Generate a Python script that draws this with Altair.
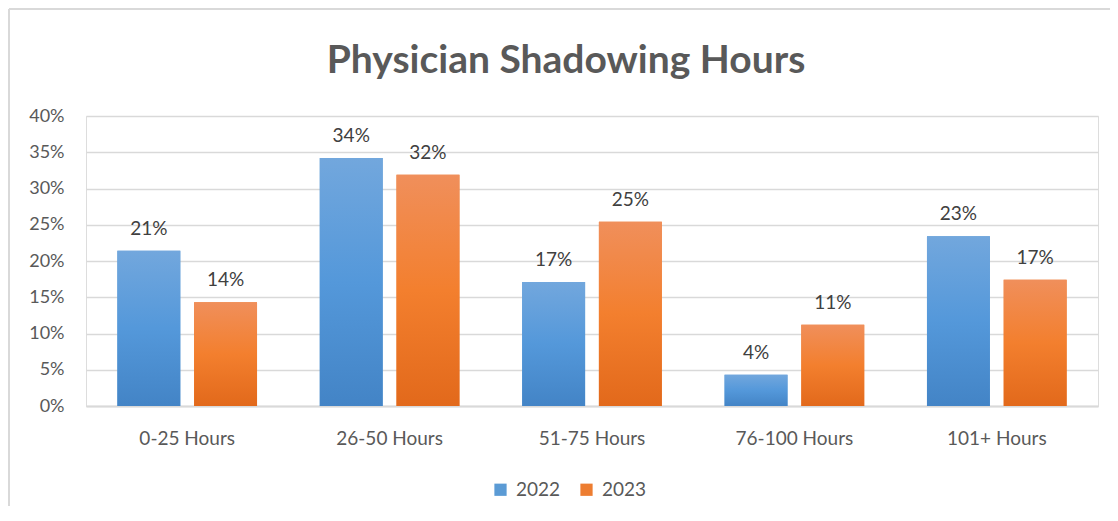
import altair as alt
import pandas as pd

categories = ["0-25 Hours", "26-50 Hours", "51-75 Hours", "76-100 Hours", "101+ Hours"]
years = ["2022", "2023"]
values_2022 = [0.214, 0.342, 0.171, 0.043, 0.234]
values_2023 = [0.143, 0.319, 0.254, 0.112, 0.174]
y_ticks = [0, 0.05, 0.10, 0.15, 0.20, 0.25, 0.30, 0.35, 0.40]
title_text = "Physician Shadowing Hours"

rows = []
for c, v in zip(categories, values_2022):
    rows.append({"cat": c, "year": "2022", "value": v})
for c, v in zip(categories, values_2023):
    rows.append({"cat": c, "year": "2023", "value": v})
df = pd.DataFrame(rows)

FONT = "Lato"
W, H = 1012, 290

grad_blue = alt.Gradient(gradient="linear", x1=0, x2=0, y1=0, y2=1,
                         stops=[alt.GradientStop(color="#72a7dd", offset=0),
                                alt.GradientStop(color="#5498da", offset=0.5),
                                alt.GradientStop(color="#4384c6", offset=1)])
grad_orange = alt.Gradient(gradient="linear", x1=0, x2=0, y1=0, y2=1,
                           stops=[alt.GradientStop(color="#f08f5b", offset=0),
                                  alt.GradientStop(color="#f37f2e", offset=0.5),
                                  alt.GradientStop(color="#e2691b", offset=1)])

x_enc = alt.X("cat:N", sort=categories,
              scale=alt.Scale(paddingInner=0.31, paddingOuter=0.155),
              axis=alt.Axis(title=None, labelAngle=0, labelFontSize=19, labelColor="#595959",
                            labelFont=FONT, labelPadding=23, ticks=False, domainColor="#d9d9d9",
                            domainWidth=2, grid=False))
xo_enc = alt.XOffset("year:N", sort=years, scale=alt.Scale(paddingInner=0.18))
y_enc = alt.Y("value:Q", scale=alt.Scale(domain=[0, 0.4], nice=False),
              axis=alt.Axis(title=None, format=".0%", values=y_ticks, labelFontSize=18,
                            labelColor="#595959", labelFont=FONT, labelPadding=22, ticks=False,
                            domain=False, gridColor="#d9d9d9", gridWidth=1.5,
                            minExtent=78, maxExtent=78))

base = alt.Chart(df)

legend_bars = base.mark_bar().encode(
    x=x_enc, xOffset=xo_enc, y=y_enc,
    color=alt.Color("year:N", sort=years,
                    scale=alt.Scale(domain=years, range=["#5b9bd5", "#ed7d31"]),
                    legend=alt.Legend(title=None, orient="none", legendX=405, legendY=364,
                                      direction="horizontal", symbolType="square",
                                      symbolSize=150, symbolStrokeWidth=0, labelFontSize=19,
                                      labelColor="#595959", labelFont=FONT, columnPadding=16,
                                      labelOffset=6))
)

bars_2022 = base.transform_filter(alt.datum.year == "2022").mark_bar(fill=grad_blue).encode(
    x=x_enc, xOffset=xo_enc, y=y_enc)
bars_2023 = base.transform_filter(alt.datum.year == "2023").mark_bar(fill=grad_orange).encode(
    x=x_enc, xOffset=xo_enc, y=y_enc)

labels = base.mark_text(baseline="bottom", dy=-12, fontSize=19, color="#404040", font=FONT).encode(
    x=x_enc, xOffset=xo_enc, y=y_enc, text=alt.Text("value:Q", format=".0%"))

single = alt.Data(values=[{"t": title_text}])

frame_top = alt.Chart(single).mark_rule(color="#d9d9d9", strokeWidth=2).encode(
    x=alt.value(-77), x2=alt.value(W + 30), y=alt.value(-107))
frame_left = alt.Chart(single).mark_rule(color="#d9d9d9", strokeWidth=2).encode(
    x=alt.value(-77), y=alt.value(-107), y2=alt.value(H + 120))

title = alt.Chart(single).mark_text(
    fontSize=39, fontWeight="bold", color="#595959", font=FONT,
    align="center", baseline="alphabetic").encode(
    x=alt.value(W / 2 - 26), y=alt.value(-43), text="t:N")

chart = alt.layer(frame_top, frame_left, title, legend_bars, bars_2022, bars_2023, labels).properties(
    width=W, height=H,
    autosize=alt.AutoSizeParams(type="none"),
    padding={"left": 78, "top": 108, "right": 12, "bottom": 100},
).configure_view(stroke=None).configure(background="white")

chart.save("out.html", embed_options={"renderer": "svg", "actions": False})
